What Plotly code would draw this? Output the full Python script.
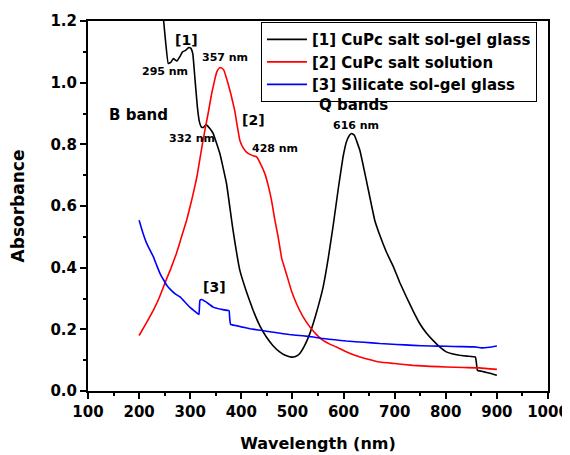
import plotly.graph_objects as go

# [1] CuPc salt sol-gel glass
wl1 = [248, 252, 257, 262, 267, 274, 280, 285, 291, 297, 301, 305, 309, 314, 318, 322, 326, 331, 338, 345,
       358, 371, 383, 397, 410, 423, 436, 449, 462, 475, 486, 498, 506, 514, 524, 534, 542, 550, 560, 570,
       580, 590, 599, 606, 612, 616, 621, 632, 645, 661, 671, 684, 697, 710, 723, 736, 749, 762, 775, 788,
       801, 814, 827, 842, 858, 860, 862, 870, 880, 890, 900]
a1 = [1.20, 1.13, 1.062, 1.066, 1.078, 1.07, 1.085, 1.10, 1.105, 1.114, 1.112, 1.094, 1.018, 0.921, 0.873,
      0.856, 0.855, 0.864, 0.852, 0.835, 0.77, 0.673, 0.53, 0.392, 0.322, 0.262, 0.212, 0.175, 0.147, 0.127,
      0.116, 0.11, 0.112, 0.121, 0.148, 0.186, 0.226, 0.272, 0.337, 0.43, 0.54, 0.66, 0.759, 0.81, 0.83,
      0.835, 0.83, 0.78, 0.68, 0.554, 0.505, 0.45, 0.405, 0.352, 0.305, 0.26, 0.219, 0.188, 0.164, 0.143,
      0.127, 0.12, 0.116, 0.113, 0.11, 0.09, 0.067, 0.064, 0.06, 0.056, 0.051]

# [2] CuPc salt solution
wl2 = [200, 214, 228, 240, 250, 262, 273, 283, 293, 303, 313, 325, 335, 342, 348, 352, 357, 361, 366, 374,
       380, 387, 392, 397, 403, 410, 420, 430, 438, 446, 452, 459, 465, 472, 479, 488, 498, 508, 520, 534,
       547, 560, 573, 586, 604, 622, 646, 671, 700, 736, 770, 801, 835, 866, 900]
a2 = [0.18, 0.22, 0.262, 0.305, 0.348, 0.397, 0.446, 0.50, 0.554, 0.62, 0.694, 0.813, 0.90, 0.965, 1.01,
      1.035, 1.048, 1.048, 1.04, 0.997, 0.96, 0.91, 0.86, 0.813, 0.79, 0.775, 0.765, 0.759, 0.735, 0.705,
      0.67, 0.619, 0.56, 0.50, 0.43, 0.381, 0.325, 0.283, 0.243, 0.208, 0.183, 0.164, 0.152, 0.143, 0.128,
      0.116, 0.104, 0.094, 0.089, 0.083, 0.08, 0.078, 0.076, 0.075, 0.07]

# [3] Silicate sol-gel glass
wl3 = [200, 207, 215, 222, 228, 235, 241, 248, 254, 262, 270, 280, 290, 299, 308, 317, 318, 319, 322, 330,
       345, 360, 376, 377, 379, 390, 400, 417, 433, 449, 470, 494, 520, 541, 560, 583, 606, 640, 671, 704,
       736, 770, 801, 830, 855, 870, 885, 900]
a3 = [0.554, 0.515, 0.478, 0.455, 0.435, 0.405, 0.381, 0.36, 0.343, 0.328, 0.316, 0.305, 0.288, 0.272,
      0.26, 0.248, 0.27, 0.294, 0.297, 0.29, 0.272, 0.265, 0.26, 0.24, 0.216, 0.212, 0.208, 0.202, 0.198,
      0.194, 0.189, 0.183, 0.179, 0.175, 0.17, 0.166, 0.162, 0.158, 0.154, 0.151, 0.148, 0.146, 0.145,
      0.144, 0.143, 0.14, 0.142, 0.146]

names = ["[1] CuPc salt sol-gel glass", "[2] CuPc salt solution", "[3] Silicate sol-gel glass"]
colors = ["black", "red", "blue"]

# annotation labels
lab_text = ["[1]", "295 nm", "357 nm", "B band", "332 nm", "[2]", "428 nm", "Q bands", "616 nm", "[3]"]
lab_x = [293, 250, 368, 198, 303, 424, 466, 619, 625, 348]
lab_y = [1.14, 1.035, 1.083, 0.894, 0.818, 0.878, 0.788, 0.927, 0.862, 0.337]
lab_size = [14, 11, 11, 15, 11, 14, 11, 15, 11, 14]

font = "DejaVu Sans, sans-serif"

fig = go.Figure()
for wl, a, n, c in zip([wl1, wl2, wl3], [a1, a2, a3], names, colors):
    fig.add_trace(go.Scatter(x=wl, y=a, mode="lines", name=n,
                             line=dict(color=c, width=1.6, shape="spline", smoothing=0.3)))

for t, x, y, s in zip(lab_text, lab_x, lab_y, lab_size):
    fig.add_annotation(x=x, y=y, text=t, showarrow=False,
                       font=dict(family=font, size=s, color="black", weight="bold"))

axis_common = dict(showline=True, linewidth=2, linecolor="black", mirror=True,
                   ticks="outside", ticklen=6, tickwidth=1.5, tickcolor="black",
                   showgrid=False, zeroline=False, automargin=False,
                   tickfont=dict(family=font, size=15, color="black", weight="bold"))

fig.update_xaxes(range=[100, 1000], dtick=100, tick0=100,
                 minor=dict(dtick=50, ticks="outside", ticklen=3, tickcolor="black", tickwidth=1.5),
                 title=dict(text="Wavelength (nm)",
                            font=dict(family=font, size=16, color="black", weight="bold"),
                            standoff=18),
                 **axis_common)
fig.update_yaxes(range=[0, 1.2], dtick=0.2, tickformat=".1f",
                 minor=dict(dtick=0.1, ticks="outside", ticklen=3, tickcolor="black", tickwidth=1.5),
                 title=dict(text="Absorbance",
                            font=dict(family=font, size=17, color="black", weight="bold"),
                            standoff=22),
                 **axis_common)

fig.update_layout(
    width=562, height=447,
    margin=dict(l=80, r=22, t=13, b=64),
    plot_bgcolor="white", paper_bgcolor="white",
    legend=dict(x=0.376, y=0.997, xanchor="left", yanchor="top",
                bgcolor="white", bordercolor="black", borderwidth=1,
                font=dict(family=font, size=15, color="black", weight="bold"),
                tracegroupgap=0, itemwidth=40),
    showlegend=True,
)

fig.write_html("out.html")
